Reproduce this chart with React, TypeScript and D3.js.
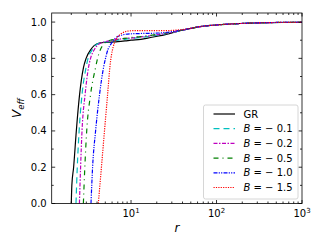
import React from 'react';
import * as d3 from 'd3';

// values
const rGR = [2.0, 2.03, 2.13, 2.29, 2.5, 2.78, 2.98, 3.4, 3.7, 4.34, 5, 6, 7, 8.5, 10, 13, 17, 22, 30, 40, 50, 64, 100, 190, 400, 1000];
const vGR = [0, 0.1, 0.2, 0.4, 0.6, 0.75, 0.8, 0.85, 0.87, 0.885, 0.888, 0.89, 0.892, 0.896, 0.9, 0.905, 0.915, 0.925, 0.94, 0.955, 0.965, 0.975, 0.984, 0.992, 0.997, 0.999];

const rB01 = [2.27, 2.35, 2.47, 2.67, 2.98, 3.14, 3.55, 3.79, 4.34, 5, 6, 7, 8.5, 10, 13, 17, 22, 30, 40, 50, 64, 100, 190, 400, 1000];
const vB01 = [0, 0.2, 0.4, 0.6, 0.75, 0.8, 0.85, 0.87, 0.885, 0.89, 0.895, 0.9, 0.905, 0.91, 0.915, 0.922, 0.93, 0.942, 0.955, 0.965, 0.975, 0.984, 0.992, 0.997, 0.999];

const rB02 = [2.49, 2.57, 2.67, 2.9, 3.18, 3.36, 3.74, 4.0, 4.46, 5, 6, 7, 8.5, 10, 13, 17, 22, 30, 40, 50, 64, 100, 190, 400, 1000];
const vB02 = [0, 0.2, 0.4, 0.6, 0.75, 0.8, 0.85, 0.87, 0.885, 0.892, 0.9, 0.905, 0.91, 0.912, 0.918, 0.925, 0.932, 0.943, 0.955, 0.965, 0.975, 0.984, 0.992, 0.997, 0.999];

const rB05 = [2.77, 2.88, 3.03, 3.36, 3.85, 4.06, 4.4, 4.83, 5.68, 7, 8.5, 10, 13, 17, 22, 30, 40, 50, 64, 100, 190, 400, 1000];
const vB05 = [0, 0.2, 0.4, 0.6, 0.75, 0.8, 0.85, 0.88, 0.9, 0.905, 0.91, 0.915, 0.92, 0.927, 0.935, 0.945, 0.956, 0.965, 0.975, 0.984, 0.992, 0.997, 0.999];

const rB10 = [3.4, 3.55, 3.85, 4.28, 4.77, 5.03, 5.38, 5.84, 6.5, 7.4, 9.7, 13, 17, 22, 30, 40, 50, 64, 100, 190, 400, 1000];
const vB10 = [0, 0.2, 0.4, 0.6, 0.75, 0.8, 0.85, 0.88, 0.91, 0.925, 0.935, 0.937, 0.938, 0.94, 0.947, 0.957, 0.965, 0.975, 0.984, 0.992, 0.997, 0.999];

const rB15 = [4.14, 4.34, 4.58, 4.83, 5.1, 5.38, 5.68, 5.91, 6.21, 6.86, 7.43, 8.9, 11.1, 17, 25, 35, 45, 64, 100, 190, 400, 1000];
const vB15 = [0, 0.11, 0.24, 0.37, 0.5, 0.63, 0.76, 0.82, 0.866, 0.915, 0.931, 0.949, 0.953, 0.953, 0.953, 0.956, 0.962, 0.975, 0.984, 0.992, 0.997, 0.999];

const yTicks = [0, 0.2, 0.4, 0.6, 0.8, 1.0];
const yMinor = [0.1, 0.3, 0.5, 0.7, 0.9];
const xTicks = [10, 100, 1000];
const xTickExp = ['1', '2', '3'];

const series = [
  { label: 'GR', r: rGR, v: vGR, color: '#000000', dash: 'none' },
  { label: '−0.1', r: rB01, v: vB01, color: '#00bfbf', dash: '6,4' },
  { label: '−0.2', r: rB02, v: vB02, color: '#bf00bf', dash: '4,1.5,1.5,1.5' },
  { label: '−0.5', r: rB05, v: vB05, color: '#008000', dash: '5,4,1,4' },
  { label: '−1.0', r: rB10, v: vB10, color: '#0000ff', dash: '4,1.2,1.2,1.2,1.2,1.2' },
  { label: '−1.5', r: rB15, v: vB15, color: '#ff0000', dash: '1.2,1.2' },
];

const W = 320;
const H = 240;
const left = 51.7, right = 302, top = 13, bottom = 203.5;

export default function App() {
  const x = d3.scaleLog().domain([1.18, 1000]).range([left, right]);
  const y = d3.scaleLinear().domain([0, 1.05]).range([bottom, top]);

  const line = d3.line<[number, number]>()
    .x(d => x(d[0]))
    .y(d => y(d[1]))
    .curve(d3.curveMonotoneX);

  // minor log ticks
  const xMinor: number[] = [];
  [1, 10, 100].forEach(dec => {
    for (let k = 2; k <= 9; k++) {
      const v = k * dec;
      if (v > 1.18 && v < 1000) xMinor.push(v);
    }
  });

  const font = 'DejaVu Sans, sans-serif';
  const legY0 = 114, legDy = 14.7;

  return (
    <svg width={W} height={H} style={{ position: 'absolute', left: 0, top: 0, background: '#fff' }}
      fontFamily={font}>
      <defs>
        <clipPath id="plot">
          <rect x={left} y={top} width={right - left} height={bottom - top} />
        </clipPath>
      </defs>
      <rect width={W} height={H} fill="#fff" />

      <g clipPath="url(#plot)">
        {series.map(s => (
          <path key={s.label}
            d={line(s.r.map((r, i) => [r, s.v[i]] as [number, number])) || ''}
            fill="none" stroke={s.color} strokeWidth={1.2}
            strokeDasharray={s.dash} />
        ))}
      </g>

      {/* ticks, all pointing in */}
      <g stroke="#000" strokeWidth={0.8}>
        {yTicks.map(t => (
          <g key={'y' + t}>
            <line x1={left} x2={left + 3.5} y1={y(t)} y2={y(t)} />
            <line x1={right} x2={right - 3.5} y1={y(t)} y2={y(t)} />
          </g>
        ))}
        {yMinor.map(t => (
          <g key={'ym' + t}>
            <line x1={left} x2={left + 2} y1={y(t)} y2={y(t)} />
            <line x1={right} x2={right - 2} y1={y(t)} y2={y(t)} />
          </g>
        ))}
        {xTicks.map(t => (
          <g key={'x' + t}>
            <line x1={x(t)} x2={x(t)} y1={bottom} y2={bottom - 3.5} />
            <line x1={x(t)} x2={x(t)} y1={top} y2={top + 3.5} />
          </g>
        ))}
        {xMinor.map(t => (
          <g key={'xm' + t}>
            <line x1={x(t)} x2={x(t)} y1={bottom} y2={bottom - 2} />
            <line x1={x(t)} x2={x(t)} y1={top} y2={top + 2} />
          </g>
        ))}
      </g>

      <rect x={left} y={top} width={right - left} height={bottom - top}
        fill="none" stroke="#000" strokeWidth={0.8} />

      {/* tick labels */}
      {yTicks.map(t => (
        <text key={'yl' + t} x={left - 5} y={y(t)} dy="0.35em" textAnchor="end" fontSize={10}>
          {t.toFixed(1)}
        </text>
      ))}
      {xTicks.map((t, i) => (
        <text key={'xl' + t} x={x(t)} y={bottom + 13.5} textAnchor="middle" fontSize={10}>
          10<tspan fontSize={7} dy={-4}>{xTickExp[i]}</tspan>
        </text>
      ))}

      {/* axis labels */}
      <text x={(left + right) / 2} y={232} textAnchor="middle" fontSize={12} fontStyle="italic">r</text>
      <text transform={`translate(21,${(top + bottom) / 2}) rotate(-90)`} textAnchor="middle" fontSize={12} fontStyle="italic">
        V<tspan fontSize={8.5} dy={3}>eff</tspan>
      </text>

      {/* legend */}
      <rect x={203.5} y={105} width={94.5} height={94} rx={2} fill="#fff" fillOpacity={0.8}
        stroke="#cccccc" strokeWidth={0.8} />
      {series.map((s, i) => {
        const ly = legY0 + i * legDy;
        return (
          <g key={'lg' + s.label}>
            <line x1={213.5} x2={235} y1={ly} y2={ly} stroke={s.color} strokeWidth={1.2}
              strokeDasharray={s.dash} />
            <text x={243.5} y={ly} dy="0.35em" fontSize={10}>
              {i === 0 ? 'GR' : (
                <>
                  <tspan fontStyle="italic">B</tspan>
                  {' = ' + s.label.replace('−', '− ')}
                </>
              )}
            </text>
          </g>
        );
      })}
    </svg>
  );
}
